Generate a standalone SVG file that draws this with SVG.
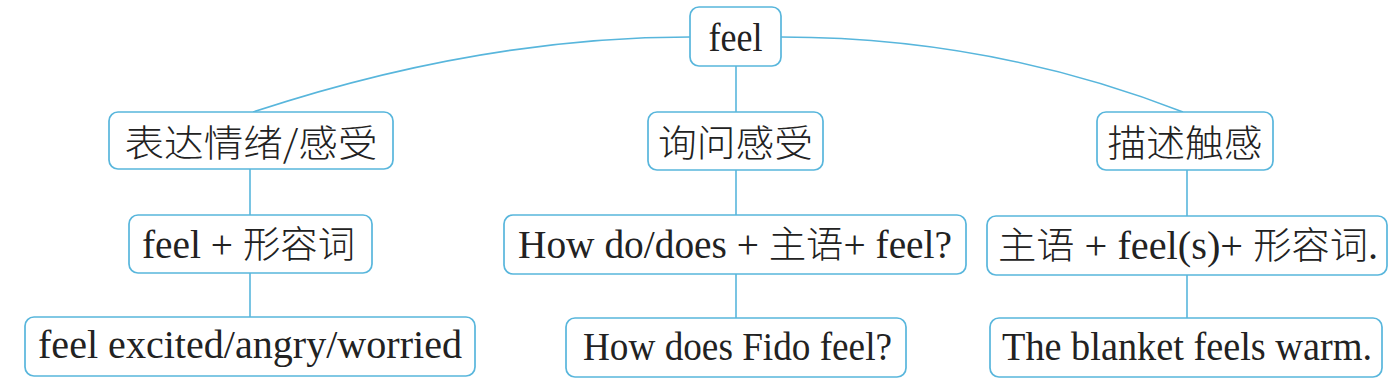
<svg xmlns="http://www.w3.org/2000/svg" width="1398" height="384" viewBox="0 0 1398 384">
<style>
.box{fill:#fff;stroke:#58b6dc;stroke-width:1.7}
.conn{fill:none;stroke:#58b6dc;stroke-width:1.6}
.t{font-family:"Liberation Serif","Noto Sans CJK SC",serif;font-size:39px;fill:#222;text-anchor:middle}
.c{font-family:"Noto Sans CJK SC","Noto Sans",sans-serif;font-size:37px;font-weight:300;fill:#222;text-anchor:middle}
.cj{font-family:"Noto Sans CJK SC",sans-serif;font-weight:300;font-size:37px}
</style>
<rect width="1398" height="384" fill="#fff"/>
<g id="connectors">
<path class="conn" d="M690,37 Q480,37 253,112"/>
<path class="conn" d="M781,37 Q990,37 1183,112"/>
<line class="conn" x1="736" y1="66" x2="736" y2="112"/>
<line class="conn" x1="250" y1="169" x2="250" y2="215"/>
<line class="conn" x1="250" y1="273" x2="250" y2="317"/>
<line class="conn" x1="736" y1="170" x2="736" y2="215"/>
<line class="conn" x1="736" y1="274" x2="736" y2="318"/>
<line class="conn" x1="1187" y1="170" x2="1187" y2="216"/>
<line class="conn" x1="1187" y1="275" x2="1187" y2="318"/>
</g>
<g id="root">
<rect class="box" x="690" y="7" width="91" height="59" rx="9"/>
<text class="t" x="735.5" y="51" textLength="54" lengthAdjust="spacingAndGlyphs">feel</text>
</g>
<g id="express">
<rect class="box" x="109" y="112" width="284" height="57" rx="9"/>
<text class="c" x="251" y="157" textLength="253" lengthAdjust="spacingAndGlyphs">表达情绪/感受</text>
</g>
<g id="ask">
<rect class="box" x="648" y="112" width="175" height="58" rx="9"/>
<text class="c" x="735.5" y="157" textLength="155" lengthAdjust="spacingAndGlyphs">询问感受</text>
</g>
<g id="describe">
<rect class="box" x="1097" y="112" width="176" height="58" rx="9"/>
<text class="c" x="1185" y="157" textLength="155" lengthAdjust="spacingAndGlyphs">描述触感</text>
</g>
<g id="pattern1">
<rect class="box" x="129" y="215" width="243" height="58" rx="9"/>
<text class="t" x="248.5" y="258" textLength="213" lengthAdjust="spacingAndGlyphs">feel + <tspan class="cj">形容词</tspan></text>
</g>
<g id="pattern2">
<rect class="box" x="504" y="215" width="462" height="59" rx="9"/>
<text class="t" x="735" y="258" textLength="434" lengthAdjust="spacingAndGlyphs">How do/does + <tspan class="cj">主语</tspan>+ feel?</text>
</g>
<g id="pattern3">
<rect class="box" x="987" y="216" width="400" height="59" rx="9"/>
<text class="t" x="1188" y="259" textLength="380" lengthAdjust="spacingAndGlyphs"><tspan class="cj">主语</tspan> + feel(s)+ <tspan class="cj">形容词</tspan>.</text>
</g>
<g id="example1">
<rect class="box" x="25" y="317" width="450" height="59" rx="9"/>
<text class="t" x="250" y="358" textLength="424" lengthAdjust="spacingAndGlyphs">feel excited/angry/worried</text>
</g>
<g id="example2">
<rect class="box" x="566" y="318" width="340" height="59" rx="9"/>
<text class="t" x="737.5" y="360" textLength="309" lengthAdjust="spacingAndGlyphs">How does Fido feel?</text>
</g>
<g id="example3">
<rect class="box" x="990" y="318" width="392" height="59" rx="9"/>
<text class="t" x="1187" y="360" textLength="370" lengthAdjust="spacingAndGlyphs">The blanket feels warm.</text>
</g>
</svg>
